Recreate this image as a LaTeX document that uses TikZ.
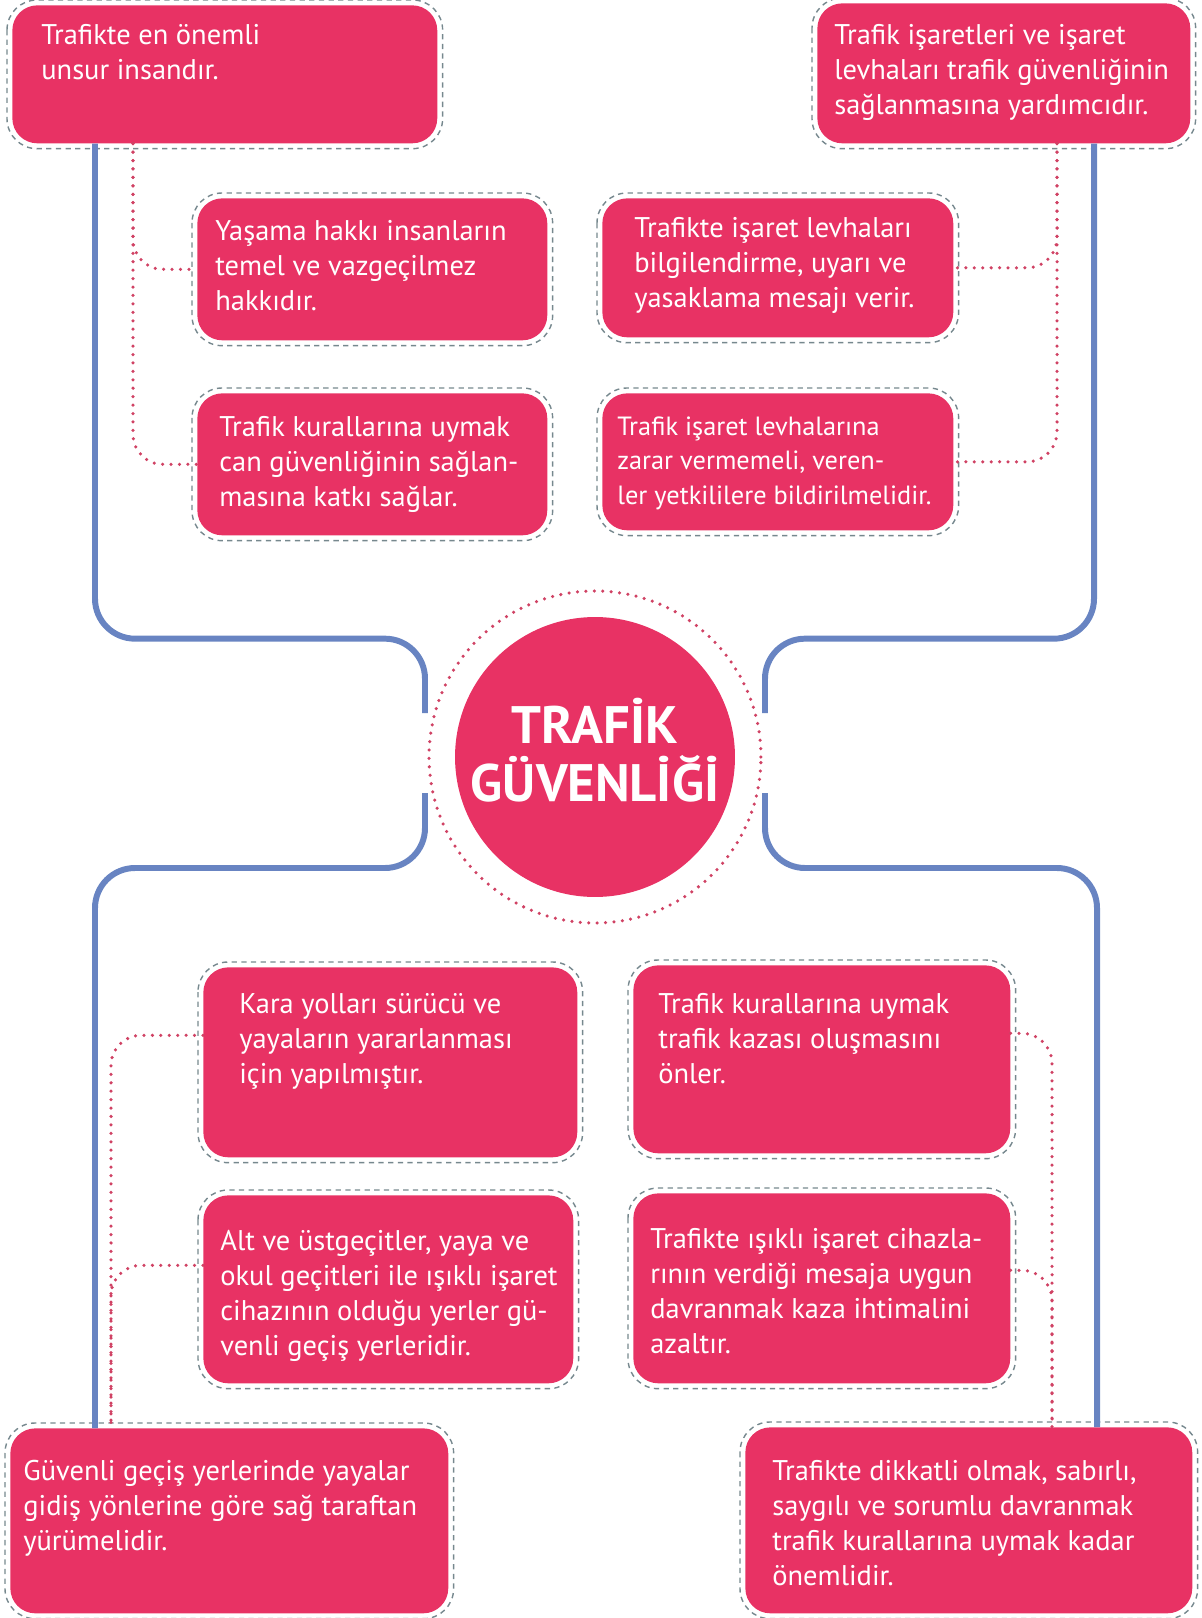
\documentclass[tikz,border=0pt]{standalone}
\usepackage{fontspec}
\setmainfont{PT Sans}
\usetikzlibrary{positioning,calc}
\definecolor{cardpink}{RGB}{232,50,100}
\definecolor{spineblue}{RGB}{104,132,194}
\definecolor{dotred}{RGB}{208,66,100}
\definecolor{rimgray}{RGB}{118,136,142}

\begin{document}
\begin{tikzpicture}[x=0.02cm,y=-0.02cm]
  \tikzstyle{card}=[rectangle,rounded corners=0.5cm,fill=cardpink,anchor=north west,inner sep=0pt]
  \tikzstyle{cardtext}=[anchor=north west,inner sep=0pt,text=white,align=left,
                        font=\fontsize{16.2}{19.9}\selectfont]
  \tikzstyle{rim}=[draw=rimgray,dash pattern=on 3pt off 2.5pt,line width=0.8pt,rounded corners=0.6cm]
  \tikzstyle{spine}=[draw=spineblue,line width=3.4pt,rounded corners=0.8cm]
  \tikzstyle{dotline}=[draw=dotred,line width=2pt,line cap=round,dash pattern=on 0pt off 4.8pt,
                       rounded corners=0.6cm]
  \tikzstyle{hub}=[circle,fill=cardpink,minimum size=5.6cm,inner sep=0pt,text=white,align=center,
                   font=\bfseries\fontsize{30}{33}\selectfont]

  \useasboundingbox (0,0) rectangle (1202,1618);

  % centre
  \node[hub] (hub) at (595,757) {TRAFİK\\GÜVENLİĞİ\\[-25pt]};
  \draw[dotline] (hub.center) circle[radius=3.32cm];

  % cards
  \node[card,minimum width=8.5cm,minimum height=2.76cm]  (tl)  at (12,5)     {};
  \node[card,minimum width=7.46cm,minimum height=2.8cm]  (tr)  at (817,3)    {};
  \node[card,minimum width=7cm,minimum height=2.84cm]    (l1)  at (197,198)  {};
  \node[card,minimum width=7cm,minimum height=2.84cm]    (l2)  at (197,393)  {};
  \node[card,minimum width=7.02cm,minimum height=2.78cm] (r1)  at (602,198)  {};
  \node[card,minimum width=7.02cm,minimum height=2.74cm] (r2)  at (602,393)  {};
  \node[card,minimum width=7.48cm,minimum height=3.8cm]  (bl1) at (203,967)  {};
  \node[card,minimum width=7.4cm,minimum height=3.76cm]  (bl2) at (203,1195) {};
  \node[card,minimum width=7.54cm,minimum height=3.76cm] (br1) at (633,965)  {};
  \node[card,minimum width=7.54cm,minimum height=3.8cm]  (br2) at (633,1193) {};
  \node[card,minimum width=8.76cm,minimum height=3.7cm]  (bl)  at (10,1428)  {};
  \node[card,minimum width=8.94cm,minimum height=3.72cm] (br)  at (745,1427) {};

  \foreach \c in {tl,tr,l1,l2,r1,r2,bl1,bl2,br1,br2,bl,br}
    \draw[rim] ([shift={(-5,-5)}]\c.north west) rectangle ([shift={(5,5)}]\c.south east);

  \node[cardtext] (tlx)  at ([shift={(29,19)}]tl.north west)  {Trafikte en önemli\\unsur insandır.};
  \node[cardtext] (trx)  at ([shift={(17,21)}]tr.north west)  {Trafik işaretleri ve işaret\\levhaları trafik güvenliğinin\\sağlanmasına yardımcıdır.};
  \node[cardtext] (l1x)  at ([shift={(18,22)}]l1.north west)  {Yaşama hakkı insanların\\temel ve vazgeçilmez\\hakkıdır.};
  \node[cardtext] (l2x)  at ([shift={(22,23)}]l2.north west)  {Trafik kurallarına uymak\\can güvenliğinin sağlan-\\masına katkı sağlar.};
  \node[cardtext] (r1x)  at ([shift={(32,19)}]r1.north west)  {Trafikte işaret levhaları\\bilgilendirme, uyarı ve\\yasaklama mesajı verir.};
  \node[cardtext,font=\fontsize{15}{19.9}\selectfont]
                  (r2x)  at ([shift={(15,23)}]r2.north west)  {Trafik işaret levhalarına\\zarar vermemeli, veren-\\ler yetkililere bildirilmelidir.};
  \node[cardtext] (bl1x) at ([shift={(36,26)}]bl1.north west) {Kara yolları sürücü ve\\yayaların yararlanması\\için yapılmıştır.};
  \node[cardtext] (bl2x) at ([shift={(17,35)}]bl2.north west) {Alt ve üstgeçitler, yaya ve\\okul geçitleri ile ışıklı işaret\\cihazının olduğu yerler gü-\\venli geçiş yerleridir.};
  \node[cardtext] (br1x) at ([shift={(25,28)}]br1.north west) {Trafik kurallarına uymak\\trafik kazası oluşmasını\\önler.};
  \node[cardtext] (br2x) at ([shift={(17,35)}]br2.north west) {Trafikte ışıklı işaret cihazla-\\rının verdiği mesaja uygun\\davranmak kaza ihtimalini\\azaltır.};
  \node[cardtext] (blx)  at ([shift={(13,32)}]bl.north west)  {Güvenli geçiş yerlerinde yayalar\\gidiş yönlerine göre sağ taraftan\\yürümelidir.};
  \node[cardtext] (brx)  at ([shift={(27,33)}]br.north west)  {Trafikte dikkatli olmak, sabırlı,\\saygılı ve sorumlu davranmak\\trafik kurallarına uymak kadar\\önemlidir.};

  % blue spines
  \coordinate (hl1) at ($(hub.center)+(-170,-44)$);
  \coordinate (hl2) at ($(hub.center)+(-170,36)$);
  \coordinate (hr1) at ($(hub.center)+(170,-44)$);
  \coordinate (hr2) at ($(hub.center)+(170,36)$);
  \draw[spine] ($(tl.south west)+(83,0)$) -- ++(0,495) -| (hl1);
  \draw[spine] (hl2) -- ++(0,75) -| ($(bl.north west)+(85,0)$);
  \draw[spine] ($(tr.south west)+(277,0)$) -- ++(0,495) -| (hr1);
  \draw[spine] (hr2) -- ++(0,75) -| ($(br.north west)+(352,0)$);

  % dotted links
  \draw[dotline] ($(tl.south west)+(121,0)$) |- (l1.west);
  \draw[dotline] ($(tl.south west)+(121,0)$) |- (l2.west);
  \draw[dotline] ($(tr.south west)+(240,0)$) |- (r1.east);
  \draw[dotline] ($(tr.south west)+(240,0)$) |- (r2.east);
  \draw[dotline] ($(bl1.west)+(0,-27)$) -| ($(bl.north west)+(101,0)$);
  \draw[dotline] ($(bl2.west)+(0,-24)$) -| ($(bl.north west)+(101,0)$);
  \draw[dotline] ($(br1.east)+(0,-26)$) -| ($(br.north west)+(307,0)$);
  \draw[dotline] ($(br2.east)+(0,-18)$) -| ($(br.north west)+(307,0)$);
\end{tikzpicture}
\end{document}
